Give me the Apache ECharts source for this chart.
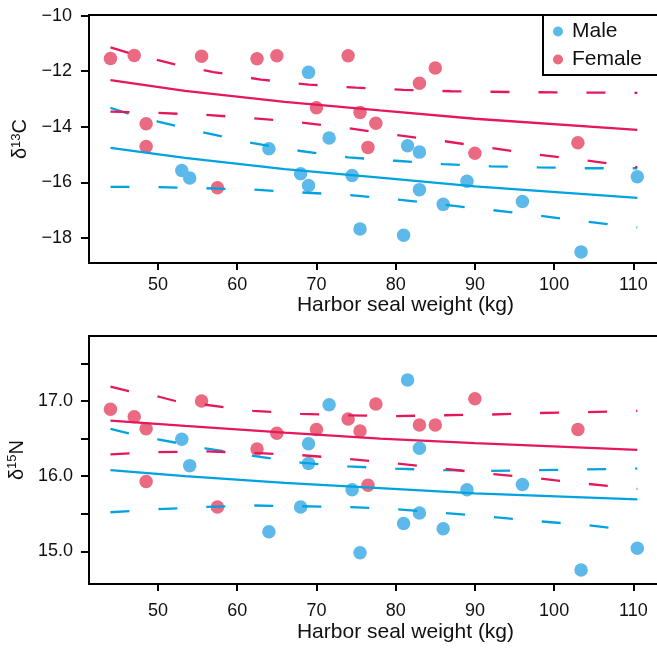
<!DOCTYPE html>
<html>
<head>
<meta charset="utf-8">
<script src="https://cdn.jsdelivr.net/npm/echarts@6/dist/echarts.min.js"></script>
<style>html,body{margin:0;padding:0;background:#fff}#c{width:657px;height:648px}</style>
</head>
<body>
<div id="c"></div>
<script>
// ---- data ----
const weightMale   = [53.0, 54.0, 64.0, 68.0, 69.0, 69.0, 71.6, 74.5, 75.5, 81.0, 81.5, 83.0, 83.0, 86.0, 89.0, 96.0, 103.4, 110.5];
const d13CMale     = [-15.57, -15.84, -14.79, -15.69, -12.04, -16.11, -14.40, -15.75, -17.68, -17.90, -14.68, -14.91, -16.26, -16.79, -15.96, -16.69, -18.50, -15.80];
const d15NMale     = [16.49, 16.14, 15.26, 15.59, 16.43, 16.17, 16.95, 15.82, 14.98, 15.37, 17.28, 16.37, 15.51, 15.30, 15.82, 15.89, 14.75, 15.04];

const weightFemale = [44.0, 47.0, 48.5, 48.5, 55.5, 57.5, 62.5, 65.0, 70.0, 74.0, 75.5, 76.5, 77.5, 83.0, 85.0, 90.0, 103.0];
const d13CFemale   = [-11.54, -11.43, -13.89, -14.71, -11.46, -16.19, -11.55, -11.44, -13.31, -11.44, -13.48, -14.74, -13.87, -12.43, -11.88, -14.95, -14.57];
const d15NFemale   = [16.89, 16.79, 16.63, 15.93, 17.00, 15.59, 16.36, 16.57, 16.62, 16.76, 16.60, 15.88, 16.96, 16.68, 16.68, 17.03, 16.62];

// fitted curves and dashed bands as [weight, value]
const maleFit13C     = [[44,-14.76],[53.4,-15.12],[66,-15.52],[78,-15.83],[90,-16.14],[110.5,-16.56]];
const maleUp13C      = [[44,-13.32],[46.3,-13.53],[50,-13.81],[56,-14.22],[62,-14.59],[68,-14.87],[74,-15.10],[80,-15.22],[86,-15.34],[92,-15.42],[98,-15.46],[104,-15.49],[110.5,-15.49]];
const maleLo13C      = [[44,-16.16],[50,-16.17],[56,-16.21],[62,-16.26],[68,-16.36],[74,-16.45],[80,-16.61],[86,-16.80],[92,-16.99],[98,-17.19],[104,-17.41],[110.5,-17.62]];
const femaleFit13C   = [[44,-12.32],[53.4,-12.71],[66,-13.10],[78,-13.41],[90,-13.71],[110.5,-14.11]];
const femaleUp13C    = [[44,-11.14],[46.3,-11.34],[50,-11.60],[52,-11.74],[57,-12.03],[63,-12.30],[69,-12.48],[75,-12.59],[81,-12.67],[87,-12.72],[95,-12.75],[110.5,-12.78]];
const femaleLo13C    = [[44,-13.45],[50,-13.50],[56,-13.57],[62,-13.69],[68,-13.84],[74,-14.05],[80,-14.29],[86,-14.51],[92,-14.76],[98,-15.00],[104,-15.21],[110.5,-15.45]];

const maleFit15N     = [[44,16.08],[53.4,16.00],[66,15.91],[78,15.84],[90,15.77],[110.5,15.69]];
const maleUp15N      = [[44,16.63],[46.3,16.57],[50,16.49],[56,16.37],[62,16.27],[68,16.18],[74,16.13],[80,16.10],[86,16.08],[92,16.07],[98,16.08],[104,16.09],[110.5,16.10]];
const maleLo15N      = [[44,15.52],[50,15.56],[56,15.59],[62,15.61],[68,15.60],[74,15.59],[80,15.56],[86,15.51],[92,15.46],[98,15.40],[104,15.35],[110.5,15.27]];
const femaleFit15N   = [[44,16.74],[53.4,16.67],[66,16.58],[78,16.50],[90,16.44],[110.5,16.35]];
const femaleUp15N    = [[44,17.19],[46.3,17.13],[50,17.06],[52.2,17.00],[56,16.95],[62,16.87],[68,16.83],[74,16.81],[80,16.80],[86,16.81],[92,16.82],[98,16.84],[104,16.85],[110.5,16.87]];
const femaleLo15N    = [[44,16.29],[50,16.32],[56,16.33],[62,16.31],[68,16.28],[74,16.23],[80,16.17],[86,16.10],[92,16.03],[98,15.97],[104,15.90],[110.5,15.83]];

const xTicks   = [50, 60, 70, 80, 90, 100, 110];
const y13Ticks = [-18, -16, -14, -12, -10];
const y15Ticks = [15, 15.5, 16, 16.5, 17, 17.5];
const y15Labels = [15, 16, 17];

// ---- styling ----
const FONT = 'Liberation Sans, Arial, Helvetica, sans-serif';
const MALE_PT = '#5DB9EA', FEMALE_PT = '#EA6A82';
const MALE_LN = '#00A3E0', FEMALE_LN = '#E6185C';
const DASH = [19, 29];

const zip = (xs, ys) => xs.map((x, i) => [x, ys[i]]);

function xAxisFor(idx, labelMargin, nameGap) {
  return {
    type: 'value', gridIndex: idx, min: 41.29, max: 121.19,
    name: 'Harbor seal weight (kg)', nameLocation: 'middle', nameGap: nameGap,
    nameTextStyle: { fontSize: 21, color: '#111', fontFamily: FONT },
    axisLine: { show: true, onZero: false, lineStyle: { color: '#000', width: 2 } },
    axisTick: { show: true, customValues: xTicks, length: 7, lineStyle: { color: '#000', width: 2 } },
    axisLabel: { customValues: xTicks, fontSize: 18, color: '#111', margin: labelMargin, fontFamily: FONT },
    splitLine: { show: false }
  };
}

function scatter(name, idx, data, color) {
  return { type: 'scatter', name: name, xAxisIndex: idx, yAxisIndex: idx, data: data,
    symbol: 'circle', symbolSize: 13.5, itemStyle: { color: color, opacity: 1 }, z: 2 };
}
function line(name, idx, data, color, dashed) {
  return { type: 'line', name: name, xAxisIndex: idx, yAxisIndex: idx, data: data,
    showSymbol: false, symbol: 'none', smooth: false,
    lineStyle: { color: color, width: 2.3, type: dashed ? DASH : 'solid' },
    itemStyle: { color: color }, z: 3, silent: true };
}

const gridBase = { left: 89, width: 633, height: 248, show: true, borderColor: '#000', borderWidth: 2,
  backgroundColor: 'transparent', containLabel: false, outerBoundsMode: 'none' };

const chart = echarts.init(document.getElementById('c'), null, { renderer: 'canvas' });
chart.setOption({
  animation: false,
  textStyle: { fontFamily: FONT },
  grid: [
    Object.assign({}, gridBase, { top: 15 }),
    Object.assign({}, gridBase, { top: 336 })
  ],
  legend: {
    data: [{ name: 'Male', icon: 'circle' }, { name: 'Female', icon: 'circle' }],
    orient: 'vertical', left: 543, top: 15,
    itemWidth: 10, itemHeight: 10, itemGap: 7,
    padding: [6, 10, 5, 10],
    borderColor: '#000', borderWidth: 2, backgroundColor: '#fff',
    textStyle: { fontSize: 21, color: '#111', width: 120, lineHeight: 20, padding: [0, 0, 0, 4], fontFamily: FONT },
    selectedMode: false
  },
  xAxis: [ xAxisFor(0, 13, 31), xAxisFor(1, 18, 38) ],
  yAxis: [
    {
      type: 'value', gridIndex: 0, min: -18.9, max: -9.976,
      name: '{d|δ}{s|13}{d|C}', nameLocation: 'middle', nameGap: 56, nameRotate: 90,
      nameTextStyle: { fontFamily: FONT, color: '#111', rich: {
        d: { fontSize: 20, lineHeight: 22, color: '#111', fontFamily: FONT },
        s: { fontSize: 13, lineHeight: 22, verticalAlign: 'top', color: '#111', fontFamily: FONT } } },
      axisLine: { show: true, lineStyle: { color: '#000', width: 2 } },
      axisTick: { show: true, customValues: y13Ticks, length: 8, lineStyle: { color: '#000', width: 2 } },
      axisLabel: { customValues: y13Ticks, fontSize: 18, color: '#111', margin: 17, fontFamily: FONT,
        formatter: v => String(v).replace('-', '\u2212') },
      splitLine: { show: false }
    },
    {
      type: 'value', gridIndex: 1, min: 14.565, max: 17.865,
      name: '{d|δ}{s|15}{d|N}', nameLocation: 'middle', nameGap: 56, nameRotate: 90,
      nameTextStyle: { fontFamily: FONT, color: '#111', rich: {
        d: { fontSize: 20, lineHeight: 22, color: '#111', fontFamily: FONT },
        s: { fontSize: 13, lineHeight: 22, verticalAlign: 'top', color: '#111', fontFamily: FONT } } },
      axisLine: { show: true, lineStyle: { color: '#000', width: 2 } },
      axisTick: { show: true, customValues: y15Ticks, length: 8, lineStyle: { color: '#000', width: 2 } },
      axisLabel: { customValues: y15Labels, fontSize: 18, color: '#111', margin: 16, fontFamily: FONT,
        formatter: v => Number(v).toFixed(1) },
      splitLine: { show: false }
    }
  ],
  series: [
    scatter('Male', 0, zip(weightMale, d13CMale), MALE_PT),
    scatter('Female', 0, zip(weightFemale, d13CFemale), FEMALE_PT),
    scatter('Male', 1, zip(weightMale, d15NMale), MALE_PT),
    scatter('Female', 1, zip(weightFemale, d15NFemale), FEMALE_PT),
    line('Male fit δ13C', 0, maleFit13C, MALE_LN, false),
    line('Male upper δ13C', 0, maleUp13C, MALE_LN, true),
    line('Male lower δ13C', 0, maleLo13C, MALE_LN, true),
    line('Female fit δ13C', 0, femaleFit13C, FEMALE_LN, false),
    line('Female upper δ13C', 0, femaleUp13C, FEMALE_LN, true),
    line('Female lower δ13C', 0, femaleLo13C, FEMALE_LN, true),
    line('Male fit δ15N', 1, maleFit15N, MALE_LN, false),
    line('Male upper δ15N', 1, maleUp15N, MALE_LN, true),
    line('Male lower δ15N', 1, maleLo15N, MALE_LN, true),
    line('Female fit δ15N', 1, femaleFit15N, FEMALE_LN, false),
    line('Female upper δ15N', 1, femaleUp15N, FEMALE_LN, true),
    line('Female lower δ15N', 1, femaleLo15N, FEMALE_LN, true)
  ]
});
</script>
</body>
</html>
